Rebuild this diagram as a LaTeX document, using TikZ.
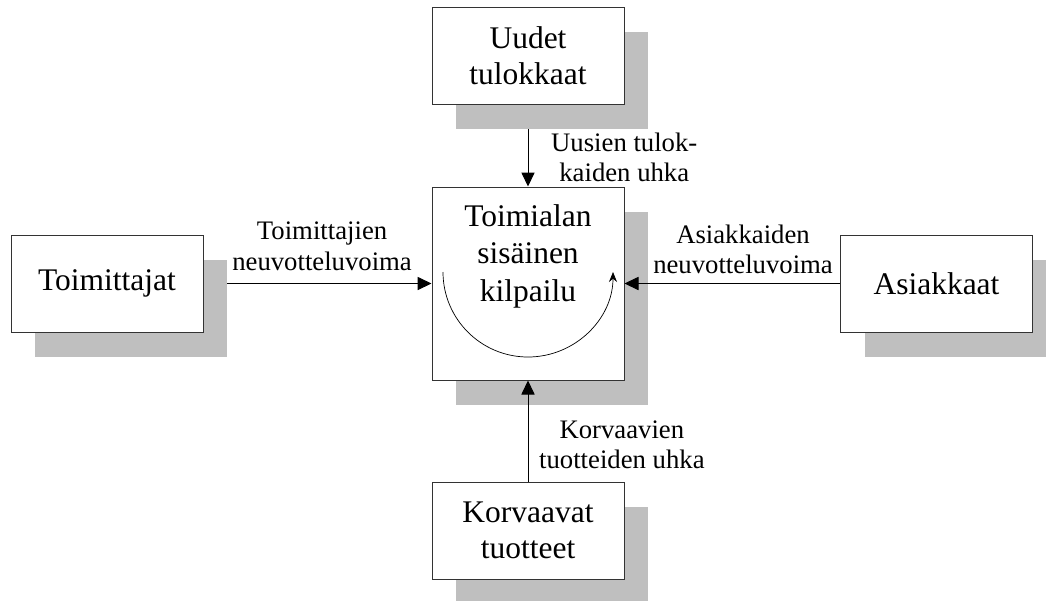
\documentclass[tikz,border=0pt]{standalone}
\usepackage{fontspec}
\setmainfont{Liberation Serif}
\usetikzlibrary{arrows.meta,shadows,positioning}
\begin{document}
\begin{tikzpicture}[
    box/.style={draw=black!80, line width=0.7pt, fill=white, minimum width=4.8cm,
      minimum height=2.425cm, align=center, font=\fontsize{22.4}{26}\selectfont,
      drop shadow={shadow xshift=0.6cm, shadow yshift=-0.625cm, fill=black!25, opacity=1}},
    force/.style={-{Triangle[length=0.35cm,width=0.33cm]}, line width=0.7pt},
    forcetext/.style={align=center, font=\fontsize{19}{21.5}\selectfont}]
      \useasboundingbox (0,0) rectangle (26.15,-15);
      \foreach \n/\x/\y/\t in {uudet/13.2/-1.3875/{Uudet\\tulokkaat}, toimittajat/2.675/-7.0875/Toimittajat,
          asiakkaat/23.4125/-7.0875/Asiakkaat, korvaavat/13.2/-13.2625/{Korvaavat\\tuotteet}}{
        \node[box] (\n) at (\x,\y) {\t};
      }
      \node[box, minimum height=4.825cm,
        label={[anchor=north, yshift=-0.33cm, align=center, font=\fontsize{22.4}{26.5}\selectfont]north:{Toimialan\\sisäinen\\kilpailu}}]
        (toimiala) at (13.2,-7.0875) {};
      \draw[-{Stealth[length=0.25cm,width=0.2cm]}, line width=0.5pt]
        ([shift={(-2.125,0.2875)}]toimiala.center) arc[start angle=180, end angle=360, radius=2.125];
      % forces towards the centre
      \draw[force, shorten <=0.625cm] (uudet) -- (toimiala)
        node[forcetext, pos=0.64, right=0.45cm] {Uusien tulok-\\kaiden uhka};
      \draw[force] (korvaavat) -- (toimiala)
        node[forcetext, pos=0.36, right=0.15cm] {Korvaavien\\tuotteiden uhka};
      \draw[force, shorten <=0.6cm] (toimittajat) -- (toimiala)
        node[forcetext, pos=0.52, above=0.2cm] {Toimittajien\\neuvotteluvoima};
      \draw[force] (asiakkaat) -- (toimiala)
        node[forcetext, pos=0.45, above=0.12cm] {Asiakkaiden\\neuvotteluvoima};
\end{tikzpicture}
\end{document}
